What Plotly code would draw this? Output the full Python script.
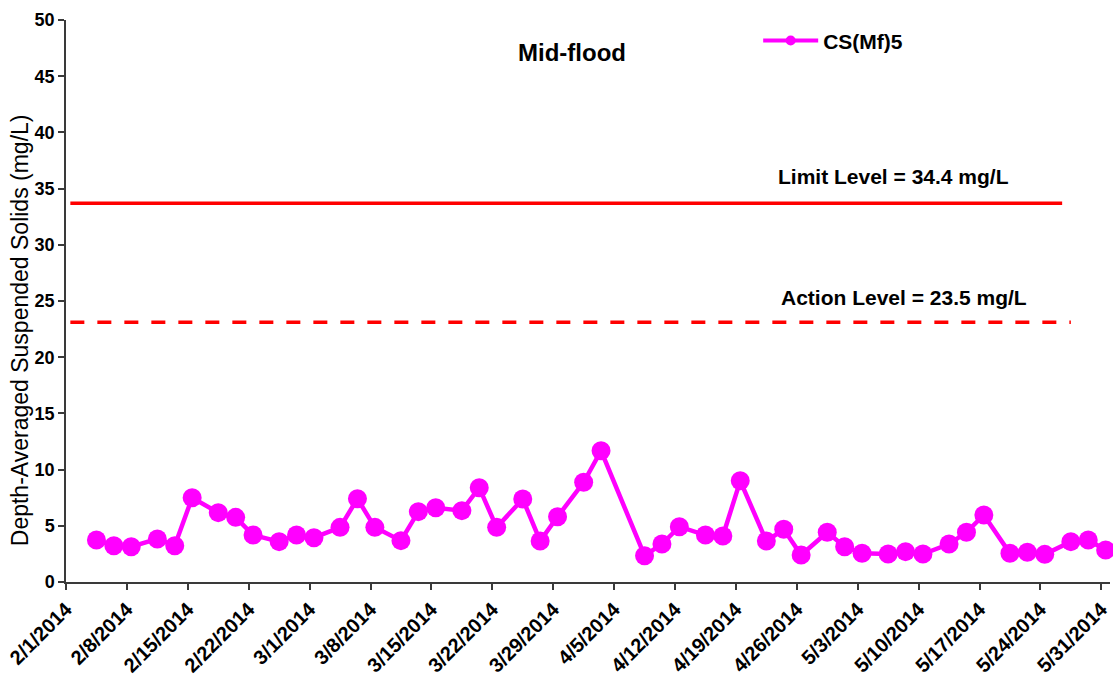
import plotly.graph_objects as go
import pandas as pd

# ---------------- data ----------------
sample_dates = [
    "2014-02-04", "2014-02-06", "2014-02-08", "2014-02-11", "2014-02-13", "2014-02-15",
    "2014-02-18", "2014-02-20", "2014-02-22", "2014-02-25", "2014-02-27", "2014-03-01",
    "2014-03-04", "2014-03-06", "2014-03-08", "2014-03-11", "2014-03-13", "2014-03-15",
    "2014-03-18", "2014-03-20", "2014-03-22", "2014-03-25", "2014-03-27", "2014-03-29",
    "2014-04-01", "2014-04-03", "2014-04-08", "2014-04-10", "2014-04-12", "2014-04-15",
    "2014-04-17", "2014-04-19", "2014-04-22", "2014-04-24", "2014-04-26", "2014-04-29",
    "2014-05-01", "2014-05-03", "2014-05-06", "2014-05-08", "2014-05-10", "2014-05-13",
    "2014-05-15", "2014-05-17", "2014-05-20", "2014-05-22", "2014-05-24", "2014-05-27",
    "2014-05-29", "2014-05-31",
]
tss_values = [
    3.74, 3.23, 3.14, 3.83, 3.23, 7.50,
    6.17, 5.75, 4.18, 3.59, 4.18, 3.94,
    4.86, 7.41, 4.86, 3.68, 6.26, 6.61,
    6.35, 8.39, 4.86, 7.38, 3.65, 5.81,
    8.87, 11.68, 2.34, 3.38, 4.92, 4.18,
    4.09, 9.00, 3.64, 4.69, 2.40, 4.42,
    3.14, 2.55, 2.49, 2.70, 2.49, 3.38,
    4.42, 5.96, 2.55, 2.64, 2.46, 3.59,
    3.74, 2.85,
]
tick_labels = [
    "2/1/2014", "2/8/2014", "2/15/2014", "2/22/2014", "3/1/2014", "3/8/2014",
    "3/15/2014", "3/22/2014", "3/29/2014", "4/5/2014", "4/12/2014", "4/19/2014",
    "4/26/2014", "5/3/2014", "5/10/2014", "5/17/2014", "5/24/2014", "5/31/2014",
]
limit_dates = ["2014-02-01", "2014-05-26"]
limit_values = [33.7, 33.7]
action_dates = ["2014-02-01", "2014-05-27"]
action_values = [23.1, 23.1]
series_name = "CS(Mf)5"
title_text = "Mid-flood"
limit_text = "Limit Level = 34.4 mg/L"
action_text = "Action Level = 23.5 mg/L"
y_title = "Depth-Averaged Suspended Solids (mg/L)"

# ---------------- figure ----------------
FONT = "Liberation Sans, Arial, sans-serif"
MAGENTA = "#FF00FF"
RED = "#FF0000"
AXC = "#3a3a3a"

half_day = pd.Timedelta(hours=12)
tick_vals = pd.to_datetime(tick_labels, format="%m/%d/%Y") - half_day
x_start = pd.Timestamp("2014-02-01") - half_day
x_end = pd.Timestamp("2014-06-01") - half_day

fig = go.Figure()

fig.add_trace(go.Scatter(
    x=limit_dates, y=limit_values, mode="lines",
    line=dict(color=RED, width=3.5), showlegend=False, hoverinfo="skip"))
fig.add_trace(go.Scatter(
    x=action_dates, y=action_values, mode="lines",
    line=dict(color=RED, width=3.5, dash="14px,13px"), showlegend=False, hoverinfo="skip"))

fig.add_trace(go.Scatter(
    x=sample_dates, y=tss_values, mode="lines+markers",
    line=dict(color=MAGENTA, width=4.5),
    marker=dict(color=MAGENTA, size=19),
    cliponaxis=False, showlegend=False, name=series_name))

# legend proxy with smaller marker
fig.add_trace(go.Scatter(
    x=[None], y=[None], mode="lines+markers", name=series_name,
    line=dict(color=MAGENTA, width=4), marker=dict(color=MAGENTA, size=10)))

fig.update_layout(
    width=1113, height=680,
    margin=dict(l=66, r=3, t=20, b=98),
    paper_bgcolor="white", plot_bgcolor="white",
    font=dict(family=FONT, color="black"),
    showlegend=True,
    legend=dict(x=0.663, y=0.963, xanchor="left", yanchor="middle",
                bgcolor="rgba(0,0,0,0)", borderwidth=0, itemwidth=55,
                font=dict(family=FONT, size=21, color="black", weight="bold")),
    xaxis=dict(
        type="date", range=[x_start, x_end], automargin=False,
        tickvals=tick_vals, ticktext=tick_labels, tickangle=-45,
        tickfont=dict(family=FONT, size=20, color="black", weight="bold"),
        showgrid=False, zeroline=False, showline=True, linecolor=AXC, linewidth=1.5,
        ticks="outside", ticklen=6, tickcolor=AXC, tickwidth=1.5),
    yaxis=dict(
        range=[0, 50], dtick=5, tick0=0, automargin=False,
        tickfont=dict(family=FONT, size=18, color="black", weight="bold"),
        showgrid=False, zeroline=False, showline=True, linecolor=AXC, linewidth=1.5,
        ticks="outside", ticklen=6, tickcolor=AXC, tickwidth=1.5),
)

fig.add_annotation(text=title_text, xref="paper", yref="paper", x=0.4847, y=0.943,
                   xanchor="center", yanchor="middle", showarrow=False,
                   font=dict(family=FONT, size=24, color="black", weight="bold"))
fig.add_annotation(text=limit_text, xref="paper", yref="paper", x=0.793, y=0.721,
                   xanchor="center", yanchor="middle", showarrow=False,
                   font=dict(family=FONT, size=21, color="black", weight="bold"))
fig.add_annotation(text=action_text, xref="paper", yref="paper", x=0.803, y=0.506,
                   xanchor="center", yanchor="middle", showarrow=False,
                   font=dict(family=FONT, size=21, color="black", weight="bold"))
fig.add_annotation(text=y_title, xref="paper", yref="paper", x=(20 - 66) / 1044, y=0.448,
                   xanchor="center", yanchor="middle", showarrow=False, textangle=-90,
                   font=dict(family=FONT, size=23, color="black"))

fig.write_html(
    "out.html",
    config={"displayModeBar": False},
    post_script="document.body.style.margin='0';document.body.style.overflow='hidden';",
)
